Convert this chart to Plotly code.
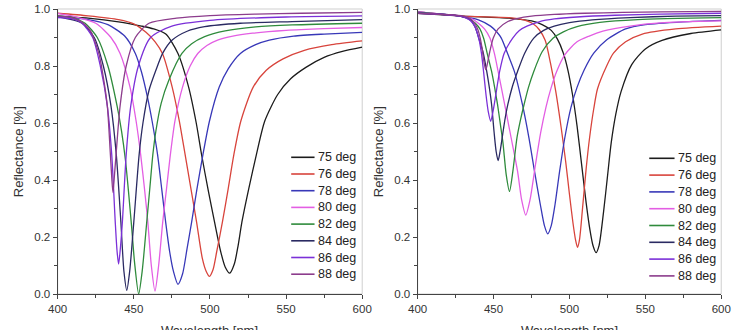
import plotly.graph_objects as go

# ---------------- data ----------------
series_names = ["75 deg", "76 deg", "78 deg", "80 deg", "82 deg", "84 deg", "86 deg", "88 deg"]
series_colors = ["#1c1c1c", "#d8443c", "#3838b8", "#e35ee3", "#2f8b3c", "#2a2a62", "#7b30d8", "#8c3c8c"]

# ----- left panel -----
left_75_x = [400, 420, 440, 455, 463, 471, 479, 486, 491, 494.5, 499, 503, 507, 510, 513, 516, 518.5, 521, 525.5, 530.5, 536, 544.5, 553, 563, 575, 587, 600]
left_75_y = [0.975, 0.968, 0.955, 0.94, 0.93, 0.912, 0.844, 0.726, 0.60, 0.489, 0.36, 0.253, 0.15, 0.095, 0.073, 0.105, 0.17, 0.253, 0.37, 0.489, 0.607, 0.70, 0.755, 0.795, 0.83, 0.851, 0.866]

left_76_x = [400, 420, 440, 450, 458, 464, 468.8, 475.2, 479.9, 483.7, 487.5, 491.2, 495, 497.5, 499.7, 502, 504.5, 508.2, 512, 515.7, 520.3, 528.4, 537, 548, 562, 580, 600]
left_76_y = [0.985, 0.976, 0.963, 0.948, 0.918, 0.885, 0.844, 0.726, 0.607, 0.489, 0.37, 0.253, 0.125, 0.08, 0.062, 0.085, 0.15, 0.253, 0.37, 0.489, 0.607, 0.726, 0.785, 0.825, 0.855, 0.875, 0.888]

left_78_x = [400, 420, 433, 444, 451, 455, 459, 462, 465.6, 468.3, 470.9, 473.5, 476, 479, 482, 485, 488, 491.5, 495.4, 499.7, 506.1, 512, 520, 530, 539, 555, 575, 600]
left_78_y = [0.975, 0.963, 0.945, 0.905, 0.844, 0.78, 0.69, 0.607, 0.489, 0.37, 0.253, 0.15, 0.08, 0.034, 0.07, 0.16, 0.253, 0.37, 0.489, 0.607, 0.726, 0.79, 0.844, 0.875, 0.891, 0.905, 0.912, 0.918]

left_80_x = [400, 410, 425, 435, 441, 447.5, 451.5, 454.5, 457, 459.2, 461.5, 463.9, 466.3, 469, 471.5, 474, 477, 482, 487, 492, 498, 505, 515, 528, 550, 575, 600]
left_80_y = [0.985, 0.975, 0.95, 0.9, 0.844, 0.726, 0.607, 0.489, 0.37, 0.253, 0.1, 0.01, 0.1, 0.253, 0.37, 0.489, 0.607, 0.726, 0.80, 0.844, 0.872, 0.891, 0.905, 0.915, 0.925, 0.931, 0.935]

left_82_x = [400, 410, 418, 426, 433, 439, 442, 444.5, 446.5, 448.5, 450.5, 453.2, 455.5, 458.5, 460.5, 462.5, 464.5, 468, 473, 481.6, 488, 496.5, 510, 530, 554, 600]
left_82_y = [0.975, 0.97, 0.95, 0.9, 0.8, 0.66, 0.57, 0.47, 0.36, 0.24, 0.11, 0.0, 0.08, 0.253, 0.37, 0.489, 0.572, 0.67, 0.75, 0.844, 0.878, 0.903, 0.923, 0.937, 0.944, 0.95]

left_84_x = [400, 416, 424, 430, 435, 438.5, 441.5, 443.5, 445.4, 447.3, 450, 453.5, 456, 460, 464.5, 469, 475.2, 485, 496.5, 520, 554, 600]
left_84_y = [0.972, 0.95, 0.9, 0.8, 0.66, 0.489, 0.253, 0.08, 0.013, 0.08, 0.253, 0.489, 0.6, 0.715, 0.785, 0.845, 0.891, 0.922, 0.938, 0.95, 0.956, 0.963]

left_86_x = [400, 410, 416, 423, 428, 432.6, 435.5, 437.8, 439, 440, 441, 442.5, 445, 448, 453, 461, 475, 500, 550, 600]
left_86_y = [0.97, 0.965, 0.95, 0.9, 0.8, 0.66, 0.489, 0.253, 0.15, 0.105, 0.15, 0.253, 0.489, 0.66, 0.8, 0.9, 0.94, 0.96, 0.972, 0.976]

left_88_x = [400, 407, 414, 418, 421.9, 424.5, 427.3, 430, 432.6, 434.5, 435.5, 436.3, 437.2, 438.5, 441, 445, 451, 460, 478, 500, 530, 560, 600]
left_88_y = [0.975, 0.972, 0.96, 0.945, 0.92, 0.885, 0.838, 0.76, 0.66, 0.5, 0.41, 0.356, 0.41, 0.5, 0.66, 0.8, 0.9, 0.95, 0.968, 0.977, 0.982, 0.985, 0.988]

# ----- right panel -----
right_75_x = [400, 430, 460, 475, 482, 488, 492, 496, 499, 502, 505, 508, 511, 513.5, 515.5, 517.5, 519.5, 522.5, 525, 527.5, 530.5, 534, 541, 550, 561, 580, 600]
right_75_y = [0.985, 0.975, 0.968, 0.958, 0.945, 0.925, 0.895, 0.845, 0.785, 0.70, 0.59, 0.455, 0.32, 0.225, 0.17, 0.145, 0.17, 0.29, 0.41, 0.53, 0.63, 0.71, 0.805, 0.86, 0.89, 0.914, 0.927]

right_76_x = [400, 430, 460, 470, 476, 480, 484, 487.5, 491, 494.5, 497.5, 500, 502.3, 504, 505.3, 506.6, 508.6, 511, 513.3, 516, 518.5, 524.5, 529, 537, 548, 570, 600]
right_76_y = [0.99, 0.975, 0.97, 0.962, 0.948, 0.928, 0.89, 0.81, 0.71, 0.585, 0.465, 0.35, 0.25, 0.19, 0.164, 0.19, 0.30, 0.44, 0.55, 0.65, 0.72, 0.80, 0.845, 0.885, 0.912, 0.93, 0.94]

right_78_x = [400, 428, 440, 448, 452, 455.1, 459.5, 463.7, 469, 473.3, 477, 480.8, 483.5, 485.7, 488, 490.5, 493.5, 497, 501, 505, 509.6, 516, 524.6, 537, 550, 575, 600]
right_78_y = [0.99, 0.975, 0.962, 0.94, 0.92, 0.898, 0.84, 0.781, 0.665, 0.548, 0.43, 0.314, 0.24, 0.211, 0.24, 0.314, 0.43, 0.55, 0.655, 0.725, 0.785, 0.845, 0.892, 0.93, 0.945, 0.955, 0.96]

right_80_x = [400, 428, 436, 440, 444, 447.6, 450.5, 453, 457.3, 461.5, 465.8, 468.5, 471.2, 474, 477.5, 481, 484.5, 488, 491.5, 497, 505, 513, 522, 540, 560, 600]
right_80_y = [0.99, 0.975, 0.965, 0.95, 0.93, 0.898, 0.845, 0.781, 0.665, 0.55, 0.431, 0.33, 0.277, 0.33, 0.45, 0.565, 0.655, 0.725, 0.78, 0.84, 0.885, 0.905, 0.922, 0.94, 0.951, 0.958]

right_82_x = [400, 428, 434, 438, 441, 443.4, 446, 448.7, 450.7, 452.6, 454.5, 456.2, 458.3, 460.5, 462.7, 465.4, 467.7, 470.1, 473, 476.5, 482, 489.3, 496, 505, 520, 545, 600]
right_82_y = [0.988, 0.975, 0.965, 0.95, 0.93, 0.898, 0.84, 0.781, 0.725, 0.665, 0.595, 0.53, 0.42, 0.36, 0.43, 0.548, 0.61, 0.665, 0.725, 0.781, 0.85, 0.898, 0.92, 0.938, 0.953, 0.963, 0.97]

right_84_x = [400, 428, 435, 438, 440.2, 443, 445.5, 447.2, 448.7, 450.3, 451.7, 453, 454.3, 456, 457.6, 459.4, 462.5, 465.8, 470.5, 476.5, 483, 490, 500, 515, 540, 570, 600]
right_84_y = [0.985, 0.975, 0.96, 0.935, 0.898, 0.85, 0.781, 0.725, 0.665, 0.57, 0.50, 0.468, 0.50, 0.56, 0.615, 0.665, 0.73, 0.781, 0.845, 0.898, 0.925, 0.94, 0.952, 0.962, 0.97, 0.975, 0.977]

right_86_x = [400, 428, 434, 437, 440.2, 442, 443.4, 445, 446.5, 448.1, 449.8, 451.5, 454, 457, 462.6, 467, 472, 480, 490, 505, 530, 560, 600]
right_86_y = [0.985, 0.975, 0.962, 0.945, 0.898, 0.845, 0.781, 0.70, 0.64, 0.606, 0.645, 0.70, 0.781, 0.845, 0.898, 0.925, 0.94, 0.955, 0.965, 0.972, 0.978, 0.982, 0.985]

right_88_x = [400, 430, 435, 437.5, 439.5, 441.2, 442.5, 443.8, 444.9, 446, 447.5, 449.8, 453, 459.4, 466, 475, 490, 510, 535, 560, 600]
right_88_y = [0.985, 0.975, 0.965, 0.95, 0.93, 0.898, 0.86, 0.81, 0.787, 0.81, 0.85, 0.898, 0.93, 0.956, 0.967, 0.975, 0.981, 0.985, 0.988, 0.99, 0.992]

x_ticks = [400, 450, 500, 550, 600]
y_ticks = [0.0, 0.2, 0.4, 0.6, 0.8, 1.0]
x_title = "Wavelength [nm]"
y_title = "Reflectance [%]"

left_x = [left_75_x, left_76_x, left_78_x, left_80_x, left_82_x, left_84_x, left_86_x, left_88_x]
left_y = [left_75_y, left_76_y, left_78_y, left_80_y, left_82_y, left_84_y, left_86_y, left_88_y]
right_x = [right_75_x, right_76_x, right_78_x, right_80_x, right_82_x, right_84_x, right_86_x, right_88_x]
right_y = [right_75_y, right_76_y, right_78_y, right_80_y, right_82_y, right_84_y, right_86_y, right_88_y]

# ---------------- figure ----------------
W, H = 740, 330
FONT = "Liberation Sans, Arial, sans-serif"
m_l, m_r, m_t, m_b = 0, 0, 9, 36
plot_h = H - m_t - m_b


def py2paper(py):
    return (H - m_b - py) / plot_h


fig = go.Figure()

for xs, ys, name, col in zip(left_x, left_y, series_names, series_colors):
    fig.add_trace(go.Scatter(x=xs, y=ys, mode="lines", name=name, showlegend=False,
                             line=dict(color=col, width=1.3, shape="spline", smoothing=0.7),
                             xaxis="x", yaxis="y"))
for xs, ys, name, col in zip(right_x, right_y, series_names, series_colors):
    fig.add_trace(go.Scatter(x=xs, y=ys, mode="lines", name=name, showlegend=False,
                             line=dict(color=col, width=1.3, shape="spline", smoothing=0.7),
                             xaxis="x2", yaxis="y2"))

axis_common = dict(showgrid=False, zeroline=False, showline=True, linecolor="#444",
                   linewidth=1.2, ticks="outside", ticklen=4, tickwidth=1, tickcolor="#444",
                   tickfont=dict(family=FONT, size=11.5, color="#333"))

xa = dict(axis_common, range=[400, 600], tickvals=x_ticks,
          minor=dict(ticks="outside", ticklen=3, dtick=25, tick0=400, tickcolor="#444"))
ya = dict(axis_common, range=[0, 1.0], tickvals=y_ticks, tickformat=".1f",
          minor=dict(ticks="outside", ticklen=3, dtick=0.1, tick0=0, tickcolor="#444"))

fig.update_layout(
    width=W, height=H,
    margin=dict(l=m_l, r=m_r, t=m_t, b=m_b, pad=0),
    paper_bgcolor="white", plot_bgcolor="white",
    xaxis=dict(xa, domain=[49 / W, 362 / W], anchor="y"),
    yaxis=dict(ya, domain=[0, 1], anchor="x"),
    xaxis2=dict(xa, domain=[419 / W, 731 / W], anchor="y2"),
    yaxis2=dict(ya, domain=[0, 1], anchor="x2"),
    showlegend=False,
)

# light frame on top / right
for xr, yr in (("x domain", "y domain"), ("x2 domain", "y2 domain")):
    fig.add_shape(type="rect", xref=xr, yref=yr, x0=0, x1=1, y0=0, y1=1,
                  line=dict(color="#cfcfcf", width=1), layer="below")

# axis titles
title_y = py2paper(321)
for cx, yx in ((205.5, 9), (575, 379)):
    fig.add_annotation(text=x_title, xref="paper", yref="paper", x=cx / W, y=title_y,
                       xanchor="center", yanchor="top", showarrow=False,
                       font=dict(family=FONT, size=13, color="#333"))
    fig.add_annotation(text=y_title, xref="paper", yref="paper", x=yx / W, y=0.5,
                       xanchor="center", yanchor="middle", textangle=-90, showarrow=False,
                       font=dict(family=FONT, size=13, color="#333"))

# legends (line sample + label), one per panel
legend_specs = [  # line x0, line x1, first row centre, row step (pixels)
    (289, 313, 157.3, 16.7),
    (657, 683, 158.3, 16.8),
]
for lx0, lx1, row0, step in legend_specs:
    for i, (name, col) in enumerate(zip(series_names, series_colors)):
        yy = py2paper(row0 + i * step)
        fig.add_shape(type="line", xref="paper", yref="paper", x0=lx0 / W, x1=lx1 / W,
                      y0=yy, y1=yy, line=dict(color=col, width=1.6))
        fig.add_annotation(text=name, xref="paper", yref="paper", x=(lx1 + 1) / W, y=yy,
                           xanchor="left", yanchor="middle", showarrow=False,
                           font=dict(family=FONT, size=12.5, color="#222"))

fig.write_html("out.html")
